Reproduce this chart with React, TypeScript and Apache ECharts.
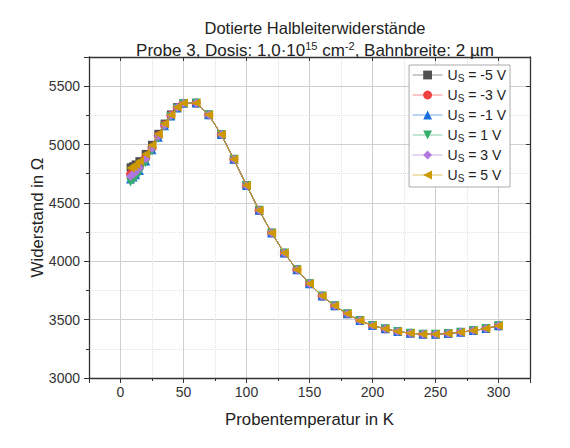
import React, { useEffect, useRef } from "react";
import * as echarts from "echarts";

const temperatures = [8, 10, 12, 15, 20, 25, 30, 35, 40, 45, 50, 60, 70, 80, 90, 100, 110, 120, 130, 140, 150, 160, 170, 180, 190, 200, 210, 220, 230, 240, 250, 260, 270, 280, 290, 300];

// low temperature part (8 ... 50 K), per series
const lowM5 = [4805, 4815, 4830, 4858, 4920, 4998, 5092, 5180, 5258, 5322, 5356];
const lowM3 = [4745, 4760, 4778, 4810, 4885, 4972, 5075, 5168, 5250, 5318, 5354];
const lowM1 = [4705, 4722, 4742, 4778, 4860, 4955, 5063, 5160, 5244, 5314, 5353];
const lowP1 = [4680, 4698, 4720, 4758, 4843, 4945, 5055, 5155, 5240, 5312, 5352];
const lowP3 = [4728, 4745, 4765, 4800, 4878, 4968, 5072, 5166, 5248, 5317, 5354];
const lowP5 = [4800, 4812, 4828, 4856, 4918, 4996, 5090, 5178, 5256, 5320, 5356];

// high temperature part (60 ... 300 K), common to all series
const highAll = [5355, 5255, 5085, 4873, 4650, 4437, 4243, 4071, 3928, 3808, 3702, 3619, 3550, 3492, 3449, 3421, 3398, 3384, 3375, 3375, 3381, 3393, 3406, 3424, 3447];

const seriesNames = ["-5 V", "-3 V", "-1 V", "1 V", "3 V", "5 V"];
const seriesLow = [lowM5, lowM3, lowM1, lowP1, lowP3, lowP5];
const colors = ["#515151", "#F14040", "#1A6FDF", "#37AD6B", "#B177DE", "#CC9900"];
const symbols = [
  "rect",
  "circle",
  "triangle",
  "path://M0,0 L10,0 L5,9 Z",
  "diamond",
  "path://M0,5 L9,0 L9,10 Z",
];
const symbolSizes = [8, 9, 9, 9, 9, 9];

const xTicks = [0, 50, 100, 150, 200, 250, 300];
const FONT = "'Liberation Sans', Arial, sans-serif";

export default function App() {
  const ref = useRef<HTMLDivElement>(null);
  useEffect(() => {
    if (!ref.current) return;
    document.body.style.margin = "0";
    const chart = echarts.init(ref.current, null, { renderer: "svg" });
    const series = seriesNames.map((n, i) => ({
      name: n,
      type: "line",
      data: temperatures.map((t, k) => [t, seriesLow[i].concat(highAll)[k]]),
      symbol: symbols[i],
      symbolSize: symbolSizes[i],
      showSymbol: true,
      color: colors[i],
      lineStyle: { width: 1, color: colors[i] },
      itemStyle: { color: colors[i] },
      z: 2 + i,
    }));
    const axisLine = { show: true, onZero: false, lineStyle: { color: "#333", width: 1.3 } };
    chart.setOption({
      animation: false,
      textStyle: { fontFamily: FONT },
      title: [
        {
          text: "Dotierte Halbleiterwiderstände",
          left: 310,
          textAlign: "center",
          top: 14,
          textStyle: { fontFamily: FONT, fontSize: 16.5, fontWeight: "normal", color: "#222" },
        },
        {
          text: "{a|Probe 3, Dosis: 1,0·10}{s|15}{a| cm}{s|-2}{a|, Bahnbreite: 2 µm}",
          left: 310,
          textAlign: "center",
          top: 35,
          textStyle: {
            fontFamily: FONT,
            fontSize: 17,
            fontWeight: "normal",
            color: "#222",
            rich: {
              a: { fontFamily: FONT, fontSize: 17, color: "#222", lineHeight: 20 },
              s: { fontFamily: FONT, fontSize: 11, color: "#222", lineHeight: 11, verticalAlign: "top" },
            },
          },
        },
      ],
      legend: {
        orient: "vertical",
        right: 60,
        top: 65,
        itemWidth: 30,
        itemHeight: 11,
        itemGap: 5,
        padding: [3, 4, 4, 3],
        borderColor: "#aaa",
        borderWidth: 1,
        backgroundColor: "#fff",
        data: seriesNames,
        lineStyle: { width: 1, opacity: 0.6 },
        formatter: (name: string) => `{u|U}{s|S}{t| = ${name}}`,
        textStyle: {
          fontFamily: FONT,
          fontSize: 14,
          color: "#222",
          rich: {
            u: { fontFamily: FONT, fontSize: 14, color: "#222", lineHeight: 16 },
            s: { fontFamily: FONT, fontSize: 10, color: "#222", lineHeight: 10, verticalAlign: "bottom" },
            t: { fontFamily: FONT, fontSize: 14, color: "#222", lineHeight: 16 },
          },
        },
      },
      grid: { left: 89, right: 40, top: 57, bottom: 70 },
      xAxis: [
        {
          type: "value",
          min: -25,
          max: 325,
          splitNumber: 7,
          position: "bottom",
          name: "Probentemperatur in K",
          nameLocation: "middle",
          nameGap: 33,
          nameTextStyle: { fontFamily: FONT, fontSize: 16.8, color: "#222" },
          axisLine,
          axisTick: { show: true, length: 5, inside: false, lineStyle: { color: "#333" } },
          minorTick: { show: true, splitNumber: 2, length: 3, lineStyle: { color: "#333" } },
          axisLabel: {
            margin: 7,
            fontFamily: FONT,
            fontSize: 14,
            color: "#333",
            formatter: (v: number) => (xTicks.includes(v) ? String(v) : ""),
          },
          splitLine: { show: true, lineStyle: { color: "#cfcfcf", width: 1 } },
          minorSplitLine: { show: true, lineStyle: { color: "#e2e2e2", width: 1, type: "dotted" } },
        },
        {
          type: "value",
          min: -25,
          max: 325,
          splitNumber: 7,
          position: "top",
          axisLine,
          axisTick: { show: true, length: 4, inside: true, lineStyle: { color: "#333" } },
          minorTick: { show: false },
          axisLabel: { show: false },
          splitLine: { show: false },
        },
      ],
      yAxis: [
        {
          type: "value",
          min: 3000,
          max: 5750,
          interval: 500,
          position: "left",
          name: "Widerstand in Ω",
          nameLocation: "middle",
          nameGap: 43,
          nameMoveOverlap: false,
          nameTextStyle: { fontFamily: FONT, fontSize: 16.8, color: "#222" },
          axisLine,
          axisTick: { show: true, length: 5, inside: false, lineStyle: { color: "#333" } },
          minorTick: { show: true, splitNumber: 2, length: 3, lineStyle: { color: "#333" } },
          axisLabel: {
            margin: 9,
            fontFamily: FONT,
            fontSize: 14,
            color: "#333",
            formatter: (v: number) => (v % 500 === 0 ? String(v) : ""),
          },
          splitLine: { show: true, lineStyle: { color: "#cfcfcf", width: 1 } },
          minorSplitLine: { show: true, lineStyle: { color: "#e2e2e2", width: 1, type: "dotted" } },
        },
        {
          type: "value",
          min: 3000,
          max: 5750,
          interval: 500,
          position: "right",
          axisLine,
          axisTick: { show: true, length: 4, inside: true, lineStyle: { color: "#333" } },
          minorTick: { show: false },
          axisLabel: { show: false },
          splitLine: { show: false },
        },
      ],
      series,
    });
    return () => chart.dispose();
  }, []);
  return <div ref={ref} style={{ width: 570, height: 448 }} />;
}
